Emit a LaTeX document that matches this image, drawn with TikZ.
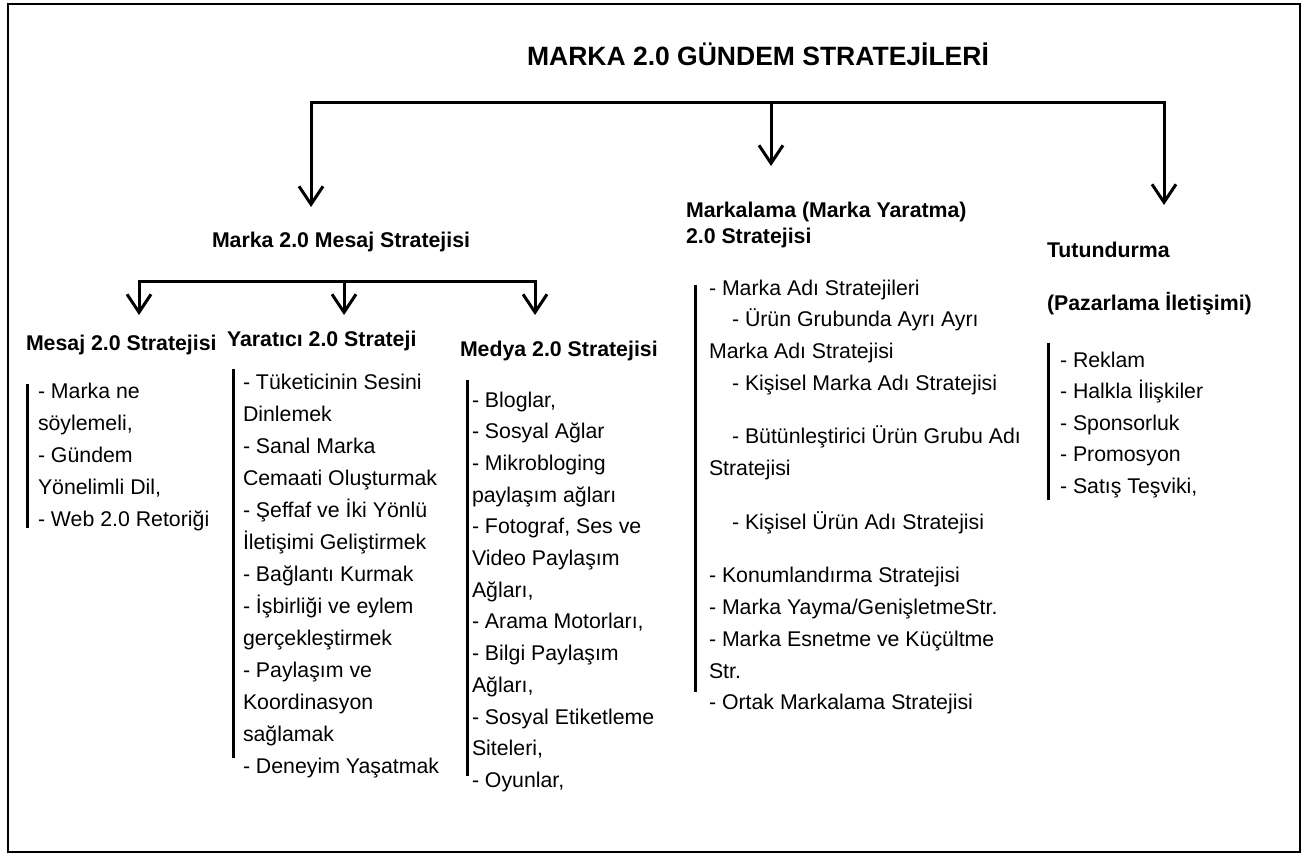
\documentclass[tikz,border=0pt]{standalone}
\usepackage{fontspec}
\setmainfont{Liberation Sans}
\usetikzlibrary{arrows.meta}
\newcommand{\bodyf}{\fontsize{21.3}{32}\selectfont}
\newcommand{\headf}{\fontsize{21.3}{26}\selectfont\bfseries}
\newcommand{\titlef}{\fontsize{26.5}{30}\selectfont\bfseries}
\newcommand{\vlist}[2]{\vtop{\baselineskip=#1pt\lineskiplimit=-1000pt\lineskip=0pt #2}}
\newcommand{\ind}{\kern23pt}
\tikzset{
  txt/.style={inner sep=0pt, outer sep=0pt, anchor=base west, font=\bodyf},
  head/.style={inner sep=0pt, outer sep=0pt, anchor=base west, font=\headf},
  conn/.style={line width=3pt, line join=miter},
  arr/.style={line width=3pt, line join=miter, -{Straight Barb[length=18pt,width=24pt]}},
  bar/.style={line width=3pt},
  frame/.style={line width=2.5pt}
}
\begin{document}
\begin{tikzpicture}[x=1pt,y=-1pt]
\useasboundingbox (0,0) rectangle (1309,856);
\draw[frame] (8,4) rectangle (1300,852);

% title
\node[inner sep=0pt, anchor=base, font=\titlef] (title) at (758,66) {MARKA 2.0 GÜNDEM STRATEJİLERİ};

% top bracket
\coordinate (tbl) at (311,103);
\coordinate (tbm) at (771,103);
\coordinate (tbr) at (1164,103);
\coordinate (tipL) at (311,207);
\coordinate (tipM) at (771,166);
\coordinate (tipR) at (1164,205);
\draw[arr] (tbm) -- (tbl) -- (tipL);
\draw[arr] (tbm) -- (tbr) -- (tipR);
\draw[arr] (tbm) -- (tipM);

% level-1 headings
\node[head] (mstrat) at (212,247) {Marka 2.0 Mesaj Stratejisi};
\node[head] (markalama) at (686,217) {\vlist{26}{\hbox{Markalama (Marka Yaratma)}\hbox{2.0 Stratejisi}}};
\node[head] (tutund) at (1047,257) {\vlist{53}{\hbox{Tutundurma}\hbox{(Pazarlama İletişimi)}}};

% second bracket
\coordinate (sbl) at (139,281);
\coordinate (sbm) at (344,281);
\coordinate (sbr) at (535,281);
\coordinate (stL) at (139,315);
\coordinate (stM) at (344,315);
\coordinate (stR) at (535,315);
\draw[arr] (sbm) -- (sbl) -- (stL);
\draw[arr] (sbm) -- (sbr) -- (stR);
\draw[arr] (sbm) -- (stM);

% level-2 headings
\node[head] (mesaj) at (26,350) {Mesaj 2.0 Stratejisi};
\node[head] (yaratici) at (227,346) {Yaratıcı 2.0 Strateji};
\node[head] (medya) at (460,356) {Medya 2.0 Stratejisi};

% lists
\node[txt] (mesajL) at (38,398) {\vlist{32}{%
\hbox{- Marka ne}\hbox{söylemeli,}\hbox{- Gündem}\hbox{Yönelimli Dil,}\hbox{- Web 2.0 Retoriği}}};

\node[txt] (yaraticiL) at (243,389) {\vlist{32.0}{%
\hbox{- Tüketicinin Sesini}\hbox{Dinlemek}\hbox{- Sanal Marka}\hbox{Cemaati Oluşturmak}%
\hbox{- Şeffaf ve İki Yönlü}\hbox{İletişimi Geliştirmek}\hbox{- Bağlantı Kurmak}%
\hbox{- İşbirliği ve eylem}\hbox{gerçekleştirmek}\hbox{- Paylaşım ve}%
\hbox{Koordinasyon}\hbox{sağlamak}\hbox{- Deneyim Yaşatmak}}};

\node[txt] (medyaL) at (472,407) {\vlist{31.7}{%
\hbox{- Bloglar,}\hbox{- Sosyal Ağlar}\hbox{- Mikrobloging}\hbox{paylaşım ağları}%
\hbox{- Fotograf, Ses ve}\hbox{Video Paylaşım}\hbox{Ağları,}\hbox{- Arama Motorları,}%
\hbox{- Bilgi Paylaşım}\hbox{Ağları,}\hbox{- Sosyal Etiketleme}\hbox{Siteleri,}\hbox{- Oyunlar,}}};

\node[txt] (markaL) at (709,295) {\vlist{31.7}{%
\hbox{- Marka Adı Stratejileri}\hbox{\ind- Ürün Grubunda Ayrı Ayrı}\hbox{Marka Adı Stratejisi}%
\hbox{\ind- Kişisel Marka Adı Stratejisi}\vskip22pt
\hbox{\ind- Bütünleştirici Ürün Grubu Adı}\hbox{Stratejisi}\vskip22pt
\hbox{\ind- Kişisel Ürün Adı Stratejisi}\vskip22pt
\hbox{- Konumlandırma Stratejisi}\hbox{- Marka Yayma/GenişletmeStr.}%
\hbox{- Marka Esnetme ve Küçültme}\hbox{Str.}\hbox{- Ortak Markalama Stratejisi}}};

\node[txt] (tutL) at (1060,367) {\vlist{31.5}{%
\hbox{- Reklam}\hbox{- Halkla İlişkiler}\hbox{- Sponsorluk}\hbox{- Promosyon}\hbox{- Satış Teşviki,}}};

% side bars
\draw[bar] (27,384) -- (27,528);
\draw[bar] (233,369) -- (233,758);
\draw[bar] (467,380) -- (467,776);
\draw[bar] (695,285) -- (695,692);
\draw[bar] (1048,343) -- (1048,500);
\end{tikzpicture}
\end{document}
